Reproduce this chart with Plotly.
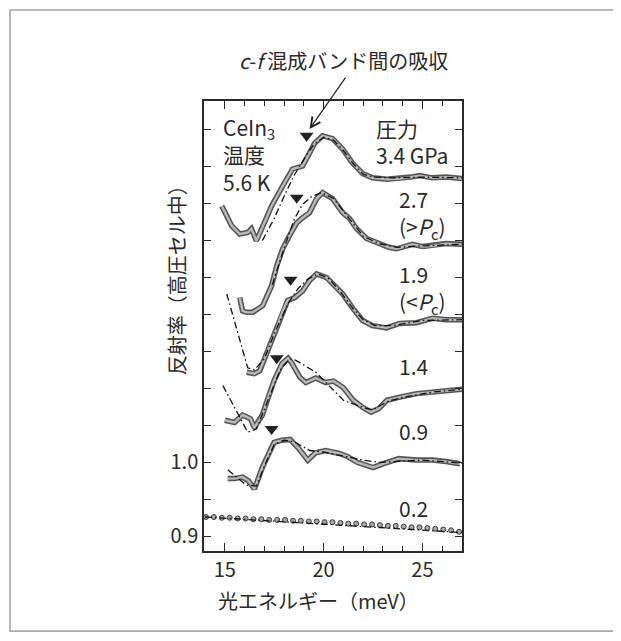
import plotly.graph_objects as go

# ---------------- data ----------------
E_34 = [14.85, 15.35, 15.76, 16.16, 16.35, 16.6, 17.0, 17.37, 17.93, 18.43, 18.94, 19.29, 19.55, 19.95,
        20.45, 20.96, 21.46, 21.97, 22.47, 23.2, 23.84, 24.4, 24.85, 25.5, 26.2, 27.0]
R_34 = [1.347, 1.320, 1.309, 1.311, 1.316, 1.300, 1.324, 1.347, 1.374, 1.397, 1.401, 1.419, 1.432, 1.442,
        1.438, 1.424, 1.405, 1.391, 1.385, 1.383, 1.384, 1.386, 1.388, 1.385, 1.386, 1.384]
FE_34 = [16.9, 17.5, 18.0, 18.5, 19.0, 19.5, 20.0, 20.5, 21.0, 21.5, 22.0, 22.5, 23.5, 25.0, 27.0]
FR_34 = [1.300, 1.330, 1.360, 1.388, 1.410, 1.430, 1.440, 1.436, 1.422, 1.404, 1.390, 1.386, 1.385, 1.386, 1.385]

E_27 = [15.76, 15.9, 16.1, 16.41, 16.92, 17.37, 17.63, 17.93, 18.28, 18.64, 18.94, 19.29, 19.65, 19.95,
        20.45, 20.96, 21.31, 21.67, 22.17, 22.83, 23.3, 23.69, 24.49, 25.0, 25.5, 26.2, 27.0]
R_27 = [1.223, 1.205, 1.203, 1.203, 1.212, 1.239, 1.266, 1.289, 1.307, 1.324, 1.331, 1.338, 1.357, 1.365,
        1.357, 1.338, 1.330, 1.316, 1.303, 1.296, 1.291, 1.289, 1.295, 1.292, 1.293, 1.296, 1.295]
FE_27 = [17.4, 18.0, 18.5, 18.9, 19.4, 19.9, 20.5, 21.0, 21.5, 22.0, 22.8, 23.7, 25.0, 27.0]
FR_27 = [1.240, 1.290, 1.328, 1.348, 1.360, 1.365, 1.357, 1.340, 1.322, 1.306, 1.296, 1.291, 1.293, 1.295]

E_19 = [16.11, 16.5, 16.77, 17.12, 17.63, 17.93, 18.18, 18.54, 18.94, 19.29, 19.65, 20.15, 20.66, 20.96,
        21.46, 21.97, 22.47, 23.18, 23.84, 24.7, 25.5, 26.2, 27.0]
R_19 = [1.122, 1.120, 1.124, 1.147, 1.182, 1.205, 1.219, 1.223, 1.232, 1.246, 1.255, 1.250, 1.236, 1.228,
        1.209, 1.192, 1.185, 1.182, 1.188, 1.189, 1.195, 1.193, 1.193]
FE_19 = [15.1, 15.6, 16.16, 16.5, 17.0, 17.6, 18.2, 18.7, 19.2, 19.7, 20.2, 20.8, 21.4, 22.0, 22.6, 23.5, 25.0, 27.0]
FR_19 = [1.228, 1.180, 1.128, 1.125, 1.140, 1.180, 1.215, 1.235, 1.248, 1.255, 1.250, 1.233, 1.211, 1.193,
         1.185, 1.185, 1.192, 1.193]

E_14 = [15.0, 15.5, 15.9, 16.3, 16.5, 16.9, 17.2, 17.5, 17.9, 18.2, 18.4, 18.8, 19.1, 19.6, 20.1, 20.5,
        21.0, 21.5, 22.0, 22.4, 22.8, 23.2, 23.8, 24.7, 25.5, 26.3, 27.0]
R_14 = [1.057, 1.054, 1.064, 1.059, 1.047, 1.064, 1.088, 1.111, 1.134, 1.141, 1.134, 1.115, 1.108, 1.114,
        1.108, 1.110, 1.101, 1.084, 1.074, 1.068, 1.073, 1.084, 1.088, 1.093, 1.095, 1.097, 1.099]
FE_14 = [14.9, 16.16, 16.6, 17.2, 17.8, 18.3, 18.6, 19.6, 21.0, 22.0, 22.5, 23.2, 24.0, 25.5, 27.0]
FR_14 = [1.104, 1.041, 1.045, 1.085, 1.125, 1.140, 1.138, 1.122, 1.084, 1.074, 1.071, 1.082, 1.088, 1.095, 1.099]

E_09 = [15.15, 15.5, 15.9, 16.2, 16.5, 16.9, 17.3, 17.5, 17.9, 18.3, 18.7, 19.2, 19.6, 20.1, 20.8, 21.2,
        21.7, 22.5, 23.0, 23.8, 24.7, 25.5, 26.2, 26.9]
R_09 = [0.978, 0.978, 0.980, 0.975, 0.964, 0.993, 1.016, 1.027, 1.030, 1.031, 1.020, 1.003, 1.013, 1.016,
        1.012, 1.008, 1.000, 0.993, 0.998, 1.005, 1.003, 1.003, 1.001, 0.998]
FE_09 = [15.15, 16.1, 16.6, 17.0, 17.5, 18.0, 18.5, 19.0, 19.3, 20.0, 21.2, 22.0, 22.8, 23.5, 25.0, 27.0]
FR_09 = [0.990, 0.969, 0.968, 0.995, 1.024, 1.030, 1.028, 1.020, 1.016, 1.014, 1.007, 1.003, 1.000, 1.001,
         1.003, 0.999]

E_02 = [14.05, 14.45, 14.85, 15.25, 15.65, 16.05, 16.45, 16.85, 17.25, 17.65, 18.05, 18.45, 18.85, 19.25,
        19.65, 20.05, 20.45, 20.85, 21.25, 21.65, 22.05, 22.45, 22.85, 23.25, 23.65, 24.05, 24.45, 24.85,
        25.25, 25.65, 26.05, 26.45, 26.85]
R_02 = [0.926, 0.926, 0.925, 0.925, 0.924, 0.924, 0.923, 0.923, 0.922, 0.922, 0.922, 0.921, 0.921, 0.920,
        0.920, 0.919, 0.919, 0.918, 0.917, 0.917, 0.916, 0.916, 0.915, 0.914, 0.914, 0.913, 0.912, 0.912,
        0.911, 0.910, 0.909, 0.908, 0.906]
FE_02 = [14.0, 27.0]
FR_02 = [0.926, 0.905]

# absorption markers (triangles)
TRI_E = [19.14, 18.64, 18.33, 17.63, 17.37]
TRI_R = [1.442, 1.358, 1.247, 1.141, 1.045]

# pressure labels (one block per curve)
LAB_TEXT = ["2.7<br>(&gt;<i>P</i><sub>c</sub>)", "1.9<br>(&lt;<i>P</i><sub>c</sub>)", "1.4", "0.9", "0.2"]
LAB_R = [1.3365, 1.2345, 1.130, 1.043, 0.938]

Y_TICKS = [0.90, 0.95, 1.00, 1.05, 1.10, 1.15, 1.20, 1.25, 1.30, 1.35, 1.40, 1.45]
Y_TICKTEXT = ["0.9", "", "1.0", "", "", "", "", "", "", "", "", ""]

FONT = "Noto Sans CJK JP, Liberation Sans, sans-serif"
TXT = "#2a2a2a"

fig = go.Figure()

curves = [(E_34, R_34), (E_27, R_27), (E_19, R_19), (E_14, R_14), (E_09, R_09)]
fits = [(FE_34, FR_34), (FE_27, FR_27), (FE_19, FR_19), (FE_14, FR_14), (FE_09, FR_09), (FE_02, FR_02)]

for ex, ry in curves:
    fig.add_trace(go.Scatter(x=ex, y=ry, mode="lines",
                             line=dict(color="#555555", width=5.5, shape="linear"),
                             hoverinfo="skip", showlegend=False))
    fig.add_trace(go.Scatter(x=ex, y=ry, mode="lines",
                             line=dict(color="#b8b8b8", width=2.4, shape="linear"),
                             hoverinfo="skip", showlegend=False))

fig.add_trace(go.Scatter(x=E_02, y=R_02, mode="markers",
                         marker=dict(symbol="circle", size=5, color="#a8a8a8",
                                     line=dict(color="#3a3a3a", width=1)),
                         hoverinfo="skip", showlegend=False))

for fx, fy in fits:
    fig.add_trace(go.Scatter(x=fx, y=fy, mode="lines",
                             line=dict(color="#111111", width=1.3, dash="7px,3px,1.5px,3px"),
                             hoverinfo="skip", showlegend=False))

fig.add_trace(go.Scatter(x=TRI_E, y=TRI_R, mode="markers",
                         marker=dict(symbol="triangle-down", size=12, color="#222222"),
                         hoverinfo="skip", showlegend=False))

annots = []
def txt(x, y, s, xanchor="left", size=21, xref="x", yref="y", **kw):
    d = dict(x=x, y=y, xref=xref, yref=yref, text=s, showarrow=False, xanchor=xanchor,
             yanchor="middle", align="left", font=dict(family=FONT, size=size, color=TXT))
    d.update(kw)
    annots.append(d)

txt(14.82, 1.4169, "CeIn<sub>3</sub><br>温度<br>5.6 K")
txt(22.55, 1.4345, "圧力<br>3.4 GPa")
for s, r in zip(LAB_TEXT, LAB_R):
    txt(23.72, r, s)

# top caption and arrow
txt(0.539, 1.089, "<i>c</i>-<i>f</i> 混成バンド間の吸収", xanchor="center", size=20,
    xref="paper", yref="paper", align="center")
annots.append(dict(x=19.29, y=1.451, xref="x", yref="y", text="", showarrow=True,
                   ax=37, ay=-53, arrowhead=5, arrowsize=1.6, arrowwidth=1.2,
                   arrowcolor="#222222"))
# axis titles
txt(0.442, -0.109, "光エネルギー（meV）", xanchor="center", size=20, xref="paper", yref="paper",
    align="center")
txt(-0.1085, 0.613, "反射率（高圧セル中）", xanchor="center", size=20, xref="paper", yref="paper",
    textangle=-90, align="center")

fig.update_layout(
    width=613, height=625,
    margin=dict(l=196, r=159, t=93, b=82),
    paper_bgcolor="white", plot_bgcolor="white",
    annotations=annots,
    shapes=[dict(type="rect", xref="paper", yref="paper",
                 x0=-0.7519, x1=1.589, y0=-0.178, y1=1.2022,
                 line=dict(color="#a8a8a8", width=1.6), layer="below")],
    xaxis=dict(range=[13.95, 27.0], showgrid=False, zeroline=False,
               showline=True, linecolor="#2a2a2a", linewidth=1.5, mirror="ticks",
               ticks="inside", tickvals=[15, 20, 25], ticklen=8, tickwidth=1.3,
               tickcolor="#2a2a2a",
               minor=dict(dtick=1, tick0=0, ticks="inside", ticklen=5, tickwidth=1.2,
                          tickcolor="#2a2a2a", showgrid=False),
               tickfont=dict(family=FONT, size=20, color=TXT)),
    yaxis=dict(range=[0.88, 1.489], showgrid=False, zeroline=False,
               showline=True, linecolor="#2a2a2a", linewidth=1.5, mirror="ticks",
               ticks="inside", tickvals=Y_TICKS, ticktext=Y_TICKTEXT, ticklen=7,
               tickwidth=1.3, tickcolor="#2a2a2a",
               tickfont=dict(family=FONT, size=20, color=TXT)),
)

fig.write_html("out.html")
